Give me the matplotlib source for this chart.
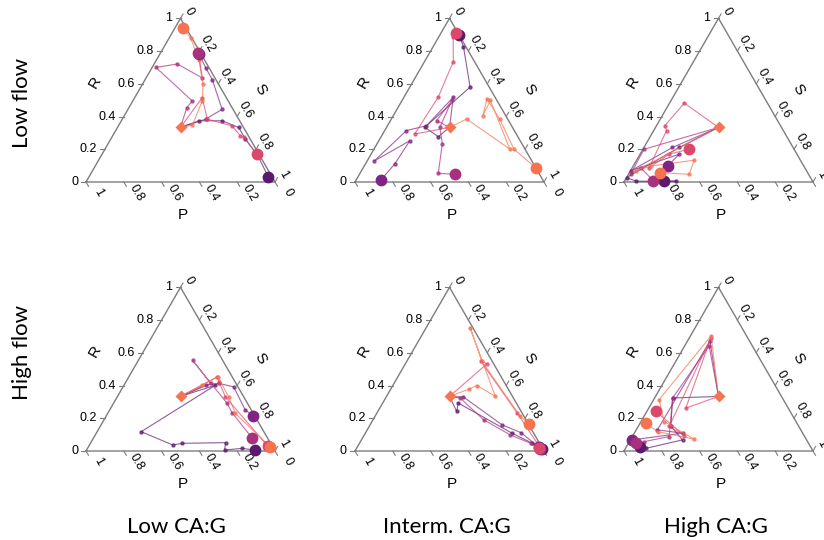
import numpy as np
import matplotlib.pyplot as plt

# ----------------------------------------------------------
# Datos: composición R / S de cada réplica (P = 1 - R - S)
# el último punto de cada lista es el estado final
# ----------------------------------------------------------

COLORES = ["#5c1a6e", "#7f2482", "#a9307e", "#dc476c", "#f7724f"]
COLOR_INICIO = "#f47552"
GRIS = "#7d7d7d"

FILAS = ["Low flow", "High flow"]
COLUMNAS = ["Low CA:G", "Interm. CA:G", "High CA:G"]

TICKS = [0, 0.2, 0.4, 0.6, 0.8, 1]

INICIO_R = 1 / 3
INICIO_S = 1 / 3

LOW_LOW_R = [
    [0.374, 0.374, 0.333, 0.263, 0.152, 0.03],
    [0.384, 0.444, 0.626, 0.697, 0.78],
    [0.455, 0.495, 0.70, 0.721, 0.636, 0.79],
    [0.515, 0.384, 0.343, 0.283, 0.273, 0.17],
    [0.347, 0.495, 0.596, 0.747, 0.879, 0.94],
]
LOW_LOW_S = [
    [0.411, 0.533, 0.641, 0.712, 0.837, 0.95],
    [0.441, 0.498, 0.355, 0.285, 0.21],
    [0.306, 0.315, 0.02, 0.123, 0.297, 0.20],
    [0.357, 0.45, 0.601, 0.675, 0.698, 0.82],
    [0.389, 0.368, 0.321, 0.224, 0.114, 0.044],
]

LOW_MID_R = [
    [0.277, 0.334, 0.58, 0.826, 0.90],
    [0.518, 0.344, 0.314, 0.129, 0.252, 0.109, 0.01],
    [0.375, 0.498, 0.334, 0.232, 0.053, 0.047],
    [0.293, 0.518, 0.734, 0.887, 0.91],
    [0.385, 0.201, 0.498, 0.406, 0.508, 0.385, 0.201, 0.084],
]
LOW_MID_S = [
    [0.302, 0.202, 0.319, 0.161, 0.10],
    [0.261, 0.206, 0.115, 0.038, 0.164, 0.155, 0.13],
    [0.244, 0.263, 0.282, 0.346, 0.414, 0.506],
    [0.169, 0.181, 0.153, 0.076, 0.08],
    [0.398, 0.719, 0.467, 0.474, 0.444, 0.573, 0.74, 0.917],
]

LOW_HIGH_R = [
    [0.211, 0.027, 0.005, 0.005, 0.005],
    [0.211, 0.068, 0.17, 0.10],
    [0.20, 0.047, 0.088, 0.006],
    [0.482, 0.344, 0.314, 0.088, 0.17, 0.20],
    [0.068, 0.098, 0.133, 0.047, 0.057],
]
LOW_HIGH_S = [
    [0.187, 0.0, 0.062, 0.274, 0.21],
    [0.151, 0.001, 0.207, 0.183],
    [0.006, 0.011, 0.044, 0.153],
    [0.078, 0.044, 0.068, 0.089, 0.154, 0.242],
    [0.028, 0.093, 0.305, 0.321, 0.162],
]

HIGH_LOW_R = [
    [0.402, 0.118, 0.037, 0.047, 0.051, 0.006, 0.016, 0.006],
    [0.402, 0.413, 0.392, 0.25, 0.215],
    [0.413, 0.555, 0.291, 0.234, 0.081],
    [0.453, 0.423, 0.331, 0.047, 0.03],
    [0.402, 0.453, 0.331, 0.23, 0.026],
]
HIGH_LOW_S = [
    [0.484, 0.233, 0.44, 0.487, 0.713, 0.73, 0.817, 0.892],
    [0.432, 0.497, 0.585, 0.718, 0.778],
    [0.453, 0.286, 0.601, 0.656, 0.837],
    [0.467, 0.492, 0.572, 0.925, 0.95],
    [0.414, 0.472, 0.589, 0.675, 0.961],
]

HIGH_MID_R = [
    [0.242, 0.293, 0.109, 0.047, 0.015],
    [0.33, 0.16, 0.113, 0.025],
    [0.324, 0.191, 0.098, 0.047, 0.01],
    [0.533, 0.549, 0.232, 0.047, 0.02],
    [0.379, 0.40, 0.334, 0.754, 0.549, 0.211, 0.166],
]
HIGH_MID_S = [
    [0.417, 0.40, 0.776, 0.915, 0.98],
    [0.409, 0.698, 0.82, 0.96],
    [0.394, 0.585, 0.773, 0.906, 0.975],
    [0.432, 0.391, 0.742, 0.941, 0.965],
    [0.416, 0.445, 0.575, 0.232, 0.396, 0.77, 0.837],
]

HIGH_HIGH_R = [
    [0.324, 0.15, 0.068, 0.016, 0.023],
    [0.672, 0.129, 0.109, 0.068],
    [0.641, 0.324, 0.088, 0.057, 0.047],
    [0.262, 0.693, 0.15, 0.094, 0.242],
    [0.703, 0.314, 0.18, 0.072, 0.119, 0.17],
]
HIGH_HIGH_S = [
    [0.095, 0.173, 0.276, 0.107, 0.072],
    [0.119, 0.112, 0.256, 0.01],
    [0.13, 0.095, 0.195, 0.077, 0.038],
    [0.196, 0.114, 0.164, 0.272, 0.047],
    [0.109, 0.029, 0.122, 0.336, 0.118, 0.03],
]

PANELES = [
    [(LOW_LOW_R, LOW_LOW_S), (LOW_MID_R, LOW_MID_S), (LOW_HIGH_R, LOW_HIGH_S)],
    [(HIGH_LOW_R, HIGH_LOW_S), (HIGH_MID_R, HIGH_MID_S), (HIGH_HIGH_R, HIGH_HIGH_S)],
]

# ----------------------------------------------------------
# Geometría
# ----------------------------------------------------------

ANCHO, ALTO = 824, 540
W_TRI = 189                      # ancho del triángulo en px
VERT_X = [86, 355, 624]          # vértice izquierdo (px)
VERT_Y = [182, 451]              # base (px desde arriba)
H = np.sqrt(3) / 2

XLIM = (-0.42, 1.25)
YLIM = (-0.42, 1.0)


def tern(r, s):
    r = np.asarray(r, dtype=float)
    s = np.asarray(s, dtype=float)
    return s + r / 2, r * H


def ejes_ternarios(fig, vx, vy):
    left = (vx + XLIM[0] * W_TRI) / ANCHO
    bottom = (ALTO - vy + YLIM[0] * W_TRI) / ALTO
    width = (XLIM[1] - XLIM[0]) * W_TRI / ANCHO
    height = (YLIM[1] - YLIM[0]) * W_TRI / ALTO
    ax = fig.add_axes([left, bottom, width, height])
    ax.set_xlim(*XLIM)
    ax.set_ylim(*YLIM)
    ax.axis("off")
    ax.patch.set_alpha(0)

    u = 1 / W_TRI
    ax.plot([0, 1, 0.5, 0], [0, 0, H, 0], color=GRIS, lw=1.0, zorder=1)

    fs = 9
    for v in TICKS:
        lab = f"{v:g}"
        # R (lado izquierdo)
        x, y = tern(v, 0)
        ax.plot([x - 5 * u, x], [y, y], color=GRIS, lw=0.8)
        ax.text(x - 8 * u, y, lab, ha="right", va="center", fontsize=fs)
        # S (lado derecho)
        x, y = tern(1 - v, v)
        ax.plot([x, x + 2.5 * u], [y, y + 4.3 * u], color=GRIS, lw=0.8)
        ax.text(x + 8 * u, y + 7 * u, lab, ha="center", va="center",
                rotation=-60, fontsize=fs)
        # P (base)
        x, y = tern(0, 1 - v)
        ax.plot([x, x + 2.5 * u], [y, y - 4.3 * u], color=GRIS, lw=0.8)
        ax.text(x + 12.5 * u, y - 11 * u, lab, ha="center", va="center",
                rotation=-60, fontsize=fs)

    ax.text(0.05, 0.53, "R", rotation=60, ha="center", va="center", fontsize=11)
    ax.text(0.92, 0.49, "S", rotation=-60, ha="center", va="center", fontsize=11)
    ax.text(0.51, -0.175, "P", ha="center", va="center", fontsize=11)
    return ax


def ejecutar():
    plt.rcParams["font.family"] = ["Liberation Sans", "DejaVu Sans"]

    fig = plt.figure(figsize=(ANCHO / 100, ALTO / 100), dpi=100)

    for i, fila in enumerate(PANELES):
        for j, (rr, ss) in enumerate(fila):
            ax = ejes_ternarios(fig, VERT_X[j], VERT_Y[i])
            for k, (r, s) in enumerate(zip(rr, ss)):
                x, y = tern([INICIO_R] + r, [INICIO_S] + s)
                ax.plot(x, y, color=COLORES[k], lw=0.8, alpha=0.7,
                        marker="o", ms=2.2, zorder=2)
            for k, (r, s) in enumerate(zip(rr, ss)):
                x, y = tern(r[-1], s[-1])
                ax.plot(x, y, "o", color=COLORES[k], ms=8.5, mec="none",
                        zorder=3)
            x0, y0 = tern(INICIO_R, INICIO_S)
            ax.plot(x0, y0, "D", color=COLOR_INICIO, ms=6, mec="none",
                    zorder=4)

    for i, fila in enumerate(FILAS):
        fig.text(22 / ANCHO, 1 - [103, 352][i] / ALTO, fila, rotation=90,
                 ha="center", va="center", fontsize=16, family="Lato")
    for j, col in enumerate(COLUMNAS):
        fig.text([176, 447, 716][j] / ANCHO, 1 - 527 / ALTO, col,
                 ha="center", va="center", fontsize=16, family="Lato")

    fig.savefig("out.png", dpi=100)
    plt.close(fig)


if __name__ == "__main__":
    ejecutar()
